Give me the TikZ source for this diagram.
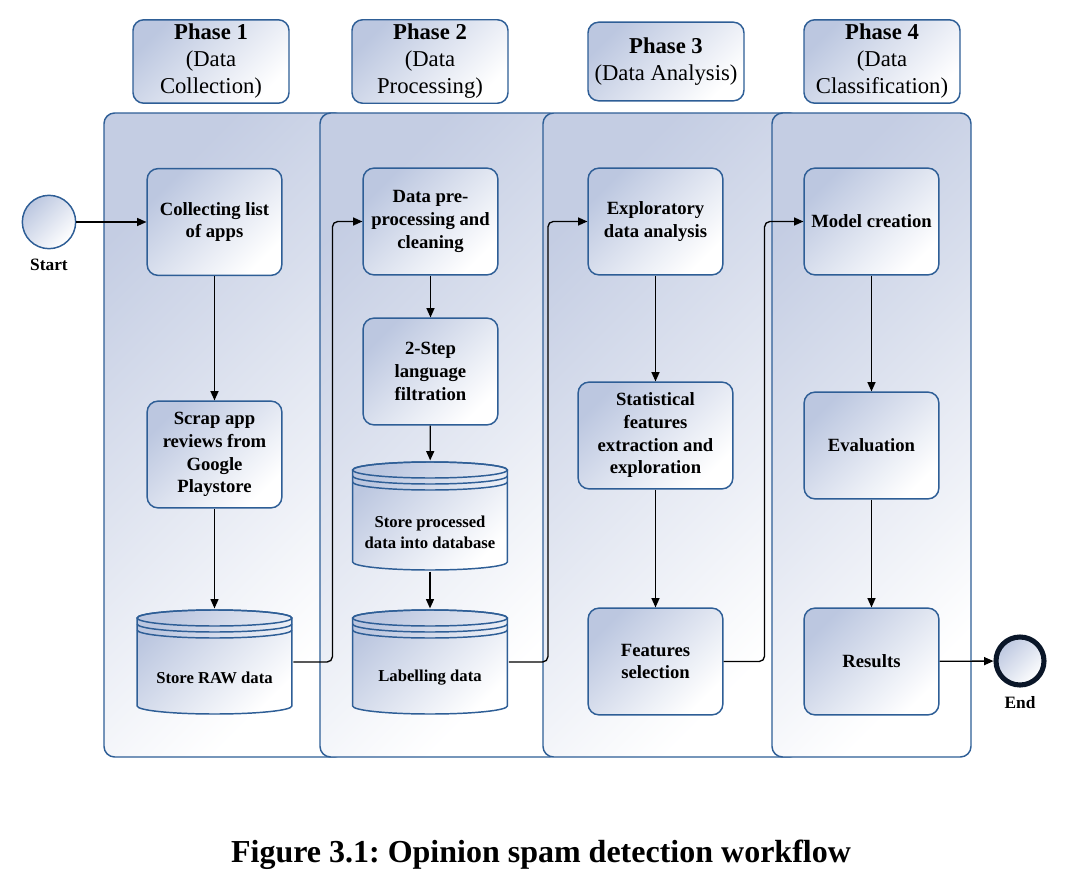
\documentclass[tikz,border=0pt]{standalone}
\usepackage{fontspec}
\setmainfont{Liberation Serif}
\usetikzlibrary{arrows.meta}

\definecolor{edgeblue}{RGB}{46,94,150}
\definecolor{laneblue}{RGB}{196,205,227}
\definecolor{boxblue}{RGB}{188,199,224}
\definecolor{ringdark}{RGB}{10,22,40}

\tikzset{
  lane/.style={draw=edgeblue, line width=1.1pt, rounded corners=8pt,
    left color=laneblue, right color=white, shading angle=45},
  phase/.style={rectangle, rounded corners=8pt, draw=edgeblue, line width=1.1pt,
    left color=boxblue, right color=white, shading angle=45,
    minimum width=117pt, minimum height=59pt, align=center,
    font=\fontsize{17}{20.25}\selectfont},
  task/.style={rectangle, rounded corners=8pt, draw=edgeblue, line width=1.1pt,
    left color=boxblue, right color=white, shading angle=45,
    minimum width=101pt, minimum height=80pt, align=center,
    font=\fontsize{14}{17}\selectfont\bfseries},
  dbase/.style={rectangle, minimum width=118pt, minimum height=#1, inner sep=0pt,
    path picture={
      \shadedraw[left color=boxblue, right color=white, shading angle=45,
          draw=edgeblue, line width=1.1pt]
        ([shift={(1pt,-7pt)}]path picture bounding box.north west)
        -- ([shift={(1pt,7pt)}]path picture bounding box.south west)
        arc[start angle=180, end angle=360, x radius=58pt, y radius=6pt]
        -- ([shift={(-1pt,-7pt)}]path picture bounding box.north east)
        arc[start angle=0, end angle=180, x radius=58pt, y radius=6pt] -- cycle;
      \draw[edgeblue, line width=1.1pt]
        ([yshift=-7pt]path picture bounding box.north) ellipse [x radius=58pt, y radius=6pt]
        ([shift={(1pt,-11.5pt)}]path picture bounding box.north west)
          arc[start angle=180, end angle=360, x radius=58pt, y radius=6pt]
        ([shift={(1pt,-16pt)}]path picture bounding box.north west)
          arc[start angle=180, end angle=360, x radius=58pt, y radius=6pt];
    }},
  dbase/.default=80pt,
  dbtext/.style={yshift=-12pt, align=center, font=\fontsize{12.5}{15.75}\selectfont\bfseries},
  event/.style={circle, minimum size=40pt, inner sep=0pt, draw=edgeblue, line width=1.1pt,
    left color=boxblue, right color=white, shading angle=45},
  evlabel/.style={font=\fontsize{13}{15}\selectfont\bfseries, label distance=4pt},
  flow/.style={-{Triangle[length=7pt,width=6pt]}, line width=1pt, rounded corners=4pt},
  caption/.style={font=\fontsize{24}{28}\selectfont\bfseries\frenchspacing}
}

\begin{document}
\begin{tikzpicture}[x=0.75pt, y=-0.75pt]
  \useasboundingbox (0,0) rectangle (1065,885);

  % lanes, one per phase
  \foreach \xa/\xb in {104/345, 320/560, 543/800, 772/971}{
    \draw[lane] (\xa,113) rectangle (\xb,757);
  }

  % phase headers
  \node[phase] (ph1) at (211,61.5) {\textbf{Phase 1}\\(Data\\Collection)};
  \node[phase] (ph2) at (430,61.5) {\textbf{Phase 2}\\(Data\\Processing)};
  \node[phase] (ph3) at (666,61.5) {\textbf{Phase 3}\\(Data Analysis)};
  \node[phase] (ph4) at (882,61.5) {\textbf{Phase 4}\\(Data\\Classification)};

  % start and end
  \node[event, label={[evlabel]below:Start}] (start) at (49,222) {};
  \node[event, draw=ringdark, line width=3.8pt, minimum size=36pt,
        label={[evlabel, label distance=3.5pt]below:End}] (end) at (1020,661) {};

  % phase 1
  \node[task] (collect) at (214.5,222) {Collecting list\\of apps};
  \node[task] (scrap) at (214.5,454.5) {Scrap app\\reviews from\\Google\\Playstore};
  \node[dbase, label={[dbtext]center:Store RAW data}] (raw) at (214.5,662) {};

  % phase 2
  \node[task] (clean) at (430.5,221.5) {Data pre-\\processing and\\cleaning};
  \node[task] (filter) at (430.5,371.5) {2-Step\\language\\filtration};
  \node[dbase=83pt, label={[dbtext]center:{Store processed\\data into database}}] (procdb) at (430,516) {};
  \node[dbase, label={[dbtext]center:Labelling data}] (labdb) at (430,662) {};

  % phase 3
  \node[task] (eda) at (655.5,221.5) {Exploratory\\data analysis};
  \node[task, minimum width=116pt] (stats) at (655.5,435.5) {Statistical\\features\\extraction and\\exploration};
  \node[task] (feat) at (655.5,661.5) {Features\\selection};

  % phase 4
  \node[task] (model) at (871.5,221.5) {Model creation};
  \node[task] (eval) at (871.5,445.5) {Evaluation};
  \node[task] (result) at (871.5,661.5) {Results};

  % flow
  \draw[flow] (start) -- (collect);
  \draw[flow] (collect) -- (scrap);
  \draw[flow] (scrap) -- (raw);
  \draw[flow] (raw.east) -- ++(39,0) |- (clean.west);
  \draw[flow] (clean) -- (filter);
  \draw[flow] (filter) -- (procdb);
  \draw[flow] (procdb) -- (labdb);
  \draw[flow] (labdb.east) -- ++(39,0) |- (eda.west);
  \draw[flow] (eda) -- (stats);
  \draw[flow] (stats) -- (feat);
  \draw[flow] (feat.east) -- ++(41,0) |- (model.west);
  \draw[flow] (model) -- (eval);
  \draw[flow] (eval) -- (result);
  \draw[flow] (result) -- (end);

  \node[caption] (cap) at (541,855) {Figure 3.1: Opinion spam detection workflow};
\end{tikzpicture}
\end{document}
